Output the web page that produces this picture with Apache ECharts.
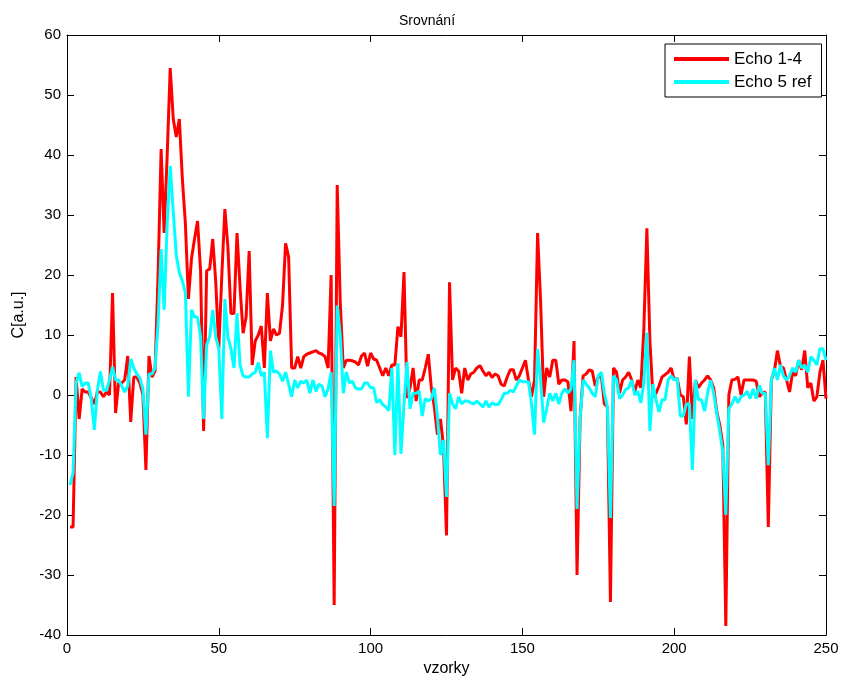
<!DOCTYPE html>
<html>
<head>
<meta charset="utf-8">
<script src="https://cdn.jsdelivr.net/npm/echarts@6/dist/echarts.min.js"></script>
<style>
html,body{margin:0;padding:0;background:#fff;}
#chart{width:844px;height:686px;}
</style>
</head>
<body>
<div id="chart"></div>
<script>
// Title and labels
const chartTitle = 'Srovnání';
const xAxisName = 'vzorky';
const yAxisName = 'C[a.u.]';
const seriesNames = ['Echo 1-4', 'Echo 5 ref'];

// Axis ticks
const xTicks = [0, 50, 100, 150, 200, 250];
const yTicks = [-40, -30, -20, -10, 0, 10, 20, 30, 40, 50, 60];

// Series values, samples 1..250
const echo14 = [
  -22, -22, 3, -4, 1, 0.5, 0.5, -0.5, -1.5, 0.5,
  0.5, -0.3, 0.5, 0, 17, -3, 2, 2, 2.5, 6.5,
  -4.5, 3, 3, 2, 0, -12.5, 6.5, 3, 4, 20,
  41, 27, 40, 54.5, 46, 43, 46, 36, 28.5, 16,
  22.7, 26, 29, 20.7, -6, 20.7, 21, 26, 18.8, 7.7,
  20, 31, 24.6, 13.6, 13.6, 27, 18, 10.3, 13, 24,
  5, 9, 10, 11.5, 4.5, 17, 9, 11, 10, 10.3,
  15, 25.3, 23, 4.5, 4.5, 6.4, 4.5, 6.4, 6.8, 7,
  7.2, 7.4, 7, 6.8, 6.4, 4.5, 20, -35, 35, 15.5,
  4.5, 5.8, 5.8, 5.7, 5.5, 5, 6.5, 7, 4.8, 7,
  6, 5.8, 4.5, 3.2, 4.5, 3.2, 5, 5, 11.4, 9.7,
  20.5, -0.5, 1.2, 4.5, -1, 2.5, 2.5, 4.5, 6.8, 1.2,
  -2, -6.6, -4, -8.5, -23.4, 18.8, 2.5, 4.5, 4, 0.3,
  4.5, 2.5, 3.5, 3.8, 4.5, 4.9, 4, 3.2, 3.8, 2.9,
  3.5, 3.2, 1.8, 1.5, 3, 4.2, 4.2, 2.5, 3.2, 4.5,
  5.8, 2.5, -0.3, 2.5, 27, 15.5, -0.3, 4.5, 3, 5.8,
  5.8, 1.8, 2.5, 2.5, 2.2, -2.7, 9, -30, -4, 3.2,
  3.5, 4.2, 4, 1.5, 3, 3.2, -1.5, -2, -34.5, 4.5,
  3.8, 0.3, 2.5, 3, 3.8, 2.5, 0.5, 2.5, 1.2, 11,
  27.8, 9, -0.3, 0.3, 1.5, 3, 3.4, 3.8, 4.5, 2.5,
  2.8, 0, -0.3, -4.9, 6.4, -4, 2.5, 1.2, 2, 2.5,
  3.2, 2.5, 1.2, -2.7, -5, -8.2, -38.5, 0, 2.5, 2.6,
  3, 0, 2.5, 2.5, 2.5, 2.5, 2.3, -0.3, 0.3, 0.5,
  -22, 2.5, 4, 7.4, 4.8, 4.5, 2.5, 0.5, 3.8, 3.2,
  5.8, 4.2, 7.4, 1.2, 2, -1, -0.3, 3.8, 5.8, -0.6
];
const echo5ref = [
  -15, -13, 2, 3.7, 1.4, 2, 2, -0.8, -5.8, 0.8,
  3.9, 0.8, 0.8, 2.5, 4.7, 2.5, 2.5, 1.5, 0.5, 1.5,
  6, 4.5, 3.5, 2.8, 1, -6.6, 3.5, 3.5, 4.5, 12,
  24.3, 14.2, 28.5, 38.2, 30.5, 23.3, 20.4, 19, 17, -0.3,
  14.2, 13, 13, 9.7, -4, 8.4, 9.7, 14.2, 9.7, 7.7,
  -4, 16, 9.7, 7.7, 4.5, 13.6, 5, 3.2, 3, 3,
  3.5, 3.8, 5.4, 3.2, 3.8, -7.2, 7.4, 3.8, 4, 3.5,
  2.3, 3.8, 1.8, -0.3, 2.5, 1.2, 2.3, 2, 2.5, 0.3,
  2.5, 0.6, 1.8, 1.5, -0.3, 1, 3.8, -18.5, 14.9, 10,
  0.3, 3.8, 2, 2.3, 1.2, 1, 1, 2, 2, 1.2,
  1.2, -1.3, -0.8, -1.6, -2, -2.6, 4.5, -10, 5.3, -9.8,
  -1.5, 5.5, -2.3, 0.3, 0.3, 0.6, -3.5, -0.6, -1, -0.6,
  1.2, -3.5, -10, -7.5, -17, 0.3, -1.5, -2.3, -0.3, -1.5,
  -1, -1, -1.3, -1.5, -1, -1.5, -2, -1, -2, -1.3,
  -1.6, -1.6, -0.8, 0.3, 0.3, 0.8, 0.5, 1.5, 2.5, 2.2,
  2.2, 2.2, -1.5, -6.6, 7.7, 2.5, -4.6, -2.3, 0.3, -1,
  0.3, -1.5, 0.3, 1, 0.3, 1, 5.8, -19, -4, 2.5,
  1.8, 1.2, 0.3, -0.3, 3.2, 3.8, 0.3, -2, -20.5, 3.2,
  2.5, -0.6, 0, 0.9, 1.2, 2.5, 0, 0.6, -1.3, 2,
  10.4, -6, 1.8, -0.8, -2.8, -0.8, -0.8, 2.5, 3.2, 2.5,
  2.8, -3.5, -3.5, -1.5, -1.5, -12.5, 2.5, -0.8, -0.8, -2.7,
  0.3, 2.5, 0.3, -3, -6, -9.5, -20, -2.3, -1.5, -0.3,
  -1.3, -0.3, 0, 0.6, -0.6, 1, -0.6, 1.6, 0.3, 0.3,
  -11.7, 2.5, 4.5, 2.5, 5, 3.2, 2.5, 3.2, 4.5, 3.8,
  5.8, 4.5, 5, 3.8, 6.4, 5.8, 5, 7.7, 7.7, 5.8
];
const seriesColors = ['#ff0000', '#00ffff'];

// sample index (1-based)
const samples = echo14.map((_, k) => k + 1);

const FONT = '"Liberation Sans", Arial, Helvetica, sans-serif';
const xMin = xTicks[0], xMax = xTicks[xTicks.length - 1], xStep = xTicks[1] - xTicks[0];
const yMin = yTicks[0], yMax = yTicks[yTicks.length - 1], yStep = yTicks[1] - yTicks[0];

const chart = echarts.init(document.getElementById('chart'), null, {renderer: 'canvas'});

const baseAxisLine = {show: true, onZero: false, lineStyle: {color: '#000', width: 1}};
const baseTick = {show: true, inside: true, length: 7, lineStyle: {color: '#000', width: 1}};

const option = {
  backgroundColor: '#fff',
  animation: false,
  title: {
    text: chartTitle,
    left: 422, top: 9, textAlign: 'center',
    textStyle: {fontFamily: FONT, fontSize: 14, fontWeight: 'normal', color: '#000'}
  },
  legend: {
    data: seriesNames,
    orient: 'vertical',
    left: 665, top: 44,
    padding: [6, 10, 6, 9],
    itemWidth: 55, itemHeight: 4, itemGap: 5,
    icon: 'rect',
    backgroundColor: '#fff',
    borderColor: '#000', borderWidth: 1,
    textStyle: {fontFamily: FONT, fontSize: 17, color: '#000', lineHeight: 18}
  },
  grid: {left: 67, right: 18, top: 35, bottom: 51, containLabel: false},
  xAxis: [
    {
      type: 'value', min: xMin, max: xMax, interval: xStep, position: 'bottom',
      axisLine: baseAxisLine, axisTick: baseTick,
      axisLabel: {color: '#000', fontFamily: FONT, fontSize: 15, margin: 6},
      splitLine: {show: false},
      name: xAxisName, nameLocation: 'middle', nameGap: 19,
      nameTextStyle: {color: '#000', fontFamily: FONT, fontSize: 16}
    },
    {
      type: 'value', min: xMin, max: xMax, interval: xStep, position: 'top',
      axisLine: baseAxisLine, axisTick: baseTick,
      axisLabel: {show: false}, splitLine: {show: false}
    }
  ],
  yAxis: [
    {
      type: 'value', min: yMin, max: yMax, interval: yStep, position: 'left',
      axisLine: baseAxisLine, axisTick: baseTick,
      axisLabel: {color: '#000', fontFamily: FONT, fontSize: 15, margin: 6},
      splitLine: {show: false},
      name: yAxisName, nameLocation: 'middle', nameGap: 40, nameRotate: 90,
      nameTextStyle: {color: '#000', fontFamily: FONT, fontSize: 16, padding: [0, 0, 0, 40]}
    },
    {
      type: 'value', min: yMin, max: yMax, interval: yStep, position: 'right',
      axisLine: baseAxisLine, axisTick: baseTick,
      axisLabel: {show: false}, splitLine: {show: false}
    }
  ],
  series: [
    {
      name: seriesNames[0], type: 'line', xAxisIndex: 0, yAxisIndex: 0,
      data: samples.map((s, k) => [s, echo14[k]]),
      showSymbol: false, symbol: 'none',
      lineStyle: {color: seriesColors[0], width: 3},
      itemStyle: {color: seriesColors[0]},
      emphasis: {disabled: true}, z: 2
    },
    {
      name: seriesNames[1], type: 'line', xAxisIndex: 0, yAxisIndex: 0,
      data: samples.map((s, k) => [s, echo5ref[k]]),
      showSymbol: false, symbol: 'none',
      lineStyle: {color: seriesColors[1], width: 3},
      itemStyle: {color: seriesColors[1]},
      emphasis: {disabled: true}, z: 3
    }
  ]
};
chart.setOption(option);
</script>
</body>
</html>
